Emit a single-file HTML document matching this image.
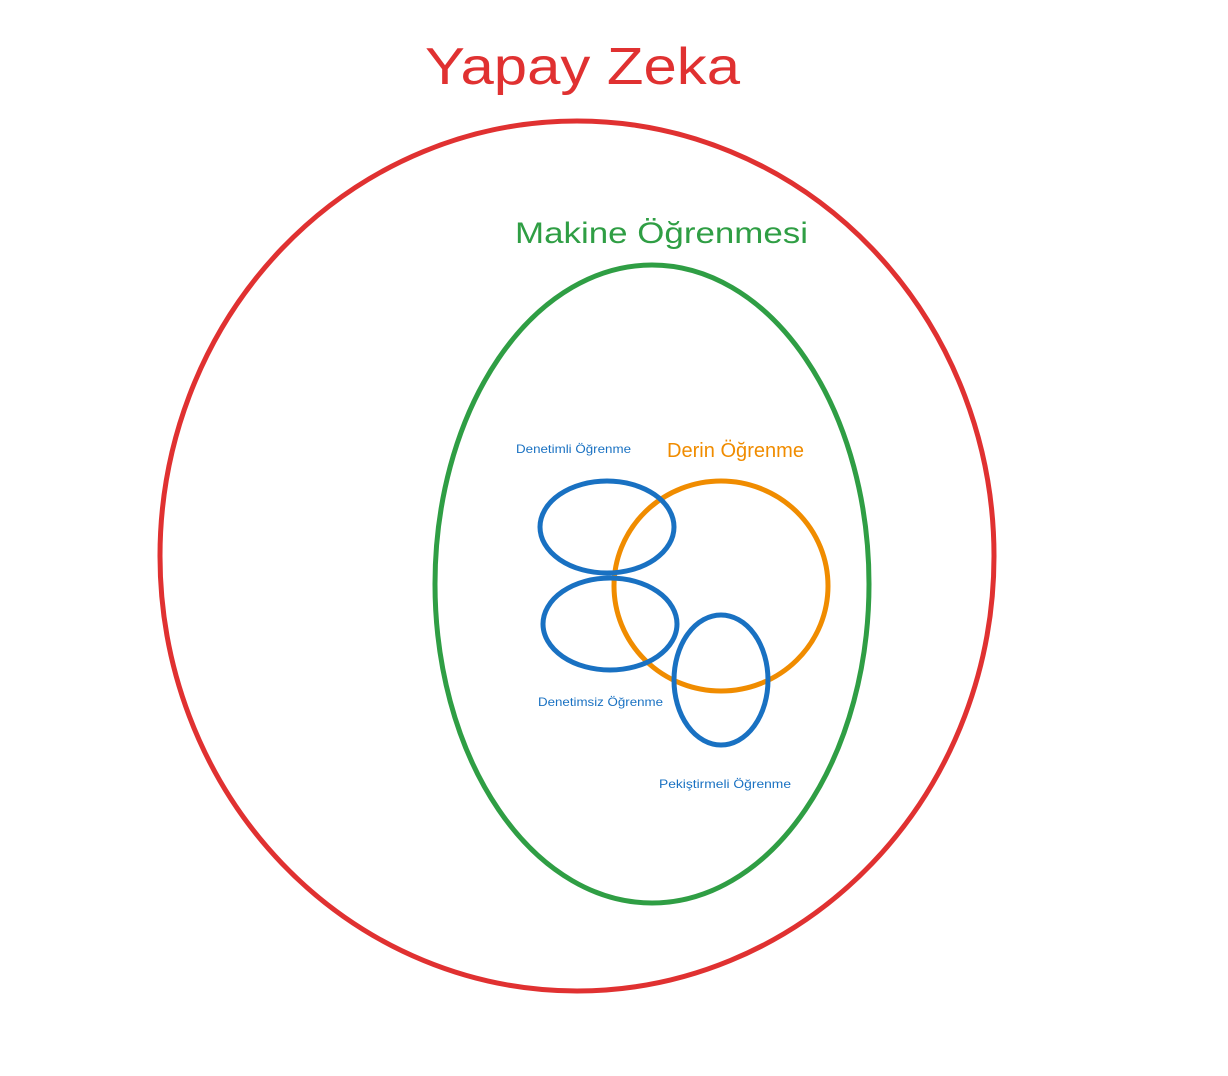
<!DOCTYPE html>
<html><head><meta charset="utf-8"><style>
html,body{margin:0;padding:0;background:#fff;}
svg{display:block;}
text{font-family:"Liberation Sans",sans-serif;}
</style></head><body>
<svg width="1228" height="1076" viewBox="0 0 1228 1076" xmlns="http://www.w3.org/2000/svg">
<rect width="1228" height="1076" fill="#fff"/>
<g fill="none" stroke-linecap="round">
<ellipse cx="577" cy="556" rx="417" ry="435" stroke="#e03131" stroke-width="5"/>
<ellipse cx="652" cy="584" rx="217" ry="319" stroke="#2f9e44" stroke-width="5"/>
<ellipse cx="721" cy="586" rx="107" ry="105" stroke="#f08c00" stroke-width="5"/>
<ellipse cx="607" cy="527" rx="67" ry="46" stroke="#1971c2" stroke-width="5"/>
<ellipse cx="610" cy="624" rx="67" ry="46" stroke="#1971c2" stroke-width="5"/>
<ellipse cx="721" cy="680" rx="47" ry="65" stroke="#1971c2" stroke-width="5"/>
</g>
<text x="425" y="84" font-size="52" fill="#e03131" textLength="315" lengthAdjust="spacingAndGlyphs">Yapay Zeka</text>
<text x="515" y="243" font-size="30" fill="#2f9e44" textLength="293" lengthAdjust="spacingAndGlyphs">Makine Öğrenmesi</text>
<text x="667" y="457" font-size="20" fill="#f08c00" textLength="137" lengthAdjust="spacingAndGlyphs">Derin Öğrenme</text>
<text x="516" y="453" font-size="12" fill="#1971c2" textLength="115" lengthAdjust="spacingAndGlyphs">Denetimli Öğrenme</text>
<text x="538" y="706" font-size="12" fill="#1971c2" textLength="125" lengthAdjust="spacingAndGlyphs">Denetimsiz Öğrenme</text>
<text x="659" y="788" font-size="12" fill="#1971c2" textLength="132" lengthAdjust="spacingAndGlyphs">Pekiştirmeli Öğrenme</text>
</svg>
</body></html>
